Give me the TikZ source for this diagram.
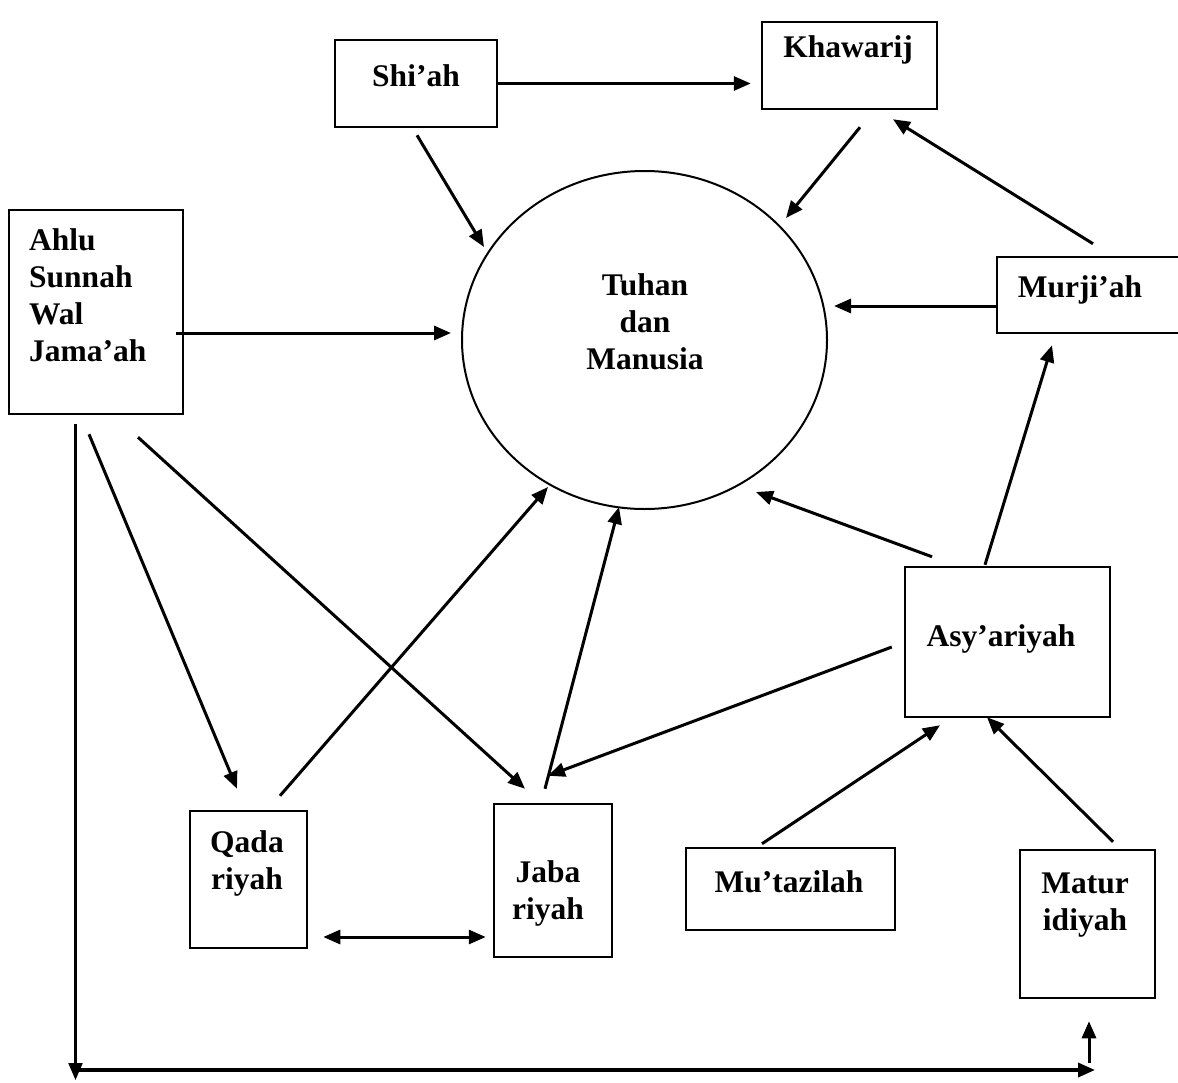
\documentclass[tikz,border=0pt]{standalone}
\usepackage{fontspec}
\setmainfont{Liberation Serif}
\usetikzlibrary{shapes.geometric,arrows.meta,positioning,calc}

\begin{document}
\begin{tikzpicture}[
            x=1pt, y=-1pt,
            box/.style={rectangle, draw, line width=2.5pt, inner sep=0pt},
            lbl/.style={font=\fontsize{31.5}{37}\selectfont\bfseries, inner sep=0pt, anchor=base, align=center},
            arrow/.style={-{Triangle[length=17pt,width=14pt]}, line width=3pt},
            dblarrow/.style={{Triangle[length=17pt,width=14pt]}-{Triangle[length=17pt,width=14pt]}, line width=3pt}
        ]
            \useasboundingbox (0,0) rectangle (1178,1082);

            % boxes
            \node[box, minimum width=162pt, minimum height=87pt] (shiah) at (416,83.5) {};
            \node[box, minimum width=175pt, minimum height=87pt] (khaw) at (849.5,65.5) {};
            \node[box, minimum width=174pt, minimum height=204pt] (ahlu) at (96,312) {};
            \node[ellipse, draw, line width=2pt, inner sep=0pt, minimum width=365pt, minimum height=338pt] (circ) at (644.5,340) {};
            \node[box, minimum width=185pt, minimum height=76pt] (murji) at (1089.5,295) {};
            \node[box, minimum width=205pt, minimum height=150pt] (asy) at (1007.5,642) {};
            \node[box, minimum width=117pt, minimum height=137pt] (qada) at (248.5,879.5) {};
            \node[box, minimum width=118pt, minimum height=153pt] (jaba) at (553,880.5) {};
            \node[box, minimum width=209pt, minimum height=82pt] (mutaz) at (790.5,889) {};
            \node[box, minimum width=135pt, minimum height=148pt] (matur) at (1087.5,924) {};

            % texts (multi-line ones sit on their last baseline)
            \node[lbl] (shiahtxt) at (416,86) {Shi’ah};
            \node[lbl] (khawtxt) at (848,57) {Khawarij};
            \node[lbl, anchor=base west, align=left] (ahlutxt) at (29,361) {Ahlu\\Sunnah\\Wal\\Jama’ah};
            \node[lbl] (circtxt) at (645,369) {Tuhan\\dan\\Manusia};
            \node[lbl] (murjitxt) at (1080,297) {Murji’ah};
            \node[lbl] (asytxt) at (1001,646) {Asy’ariyah};
            \node[lbl] (qadatxt) at (247,889) {Qada\\riyah};
            \node[lbl] (jabatxt) at (548,919) {Jaba\\riyah};
            \node[lbl] (mutaztxt) at (789,892) {Mu’tazilah};
            \node[lbl] (maturtxt) at (1085,930) {Matur\\idiyah};

            % free ends of the long line
            \coordinate (lldown) at (75.5,1080);
            \coordinate (llstart) at (76,1070);
            \coordinate (llend) at (1095,1070);
            \coordinate (upfoot) at (1089,1063);

            \draw[arrow, shorten >=10pt] (shiah.east) -- (shiah.east -| khaw.west);
            \draw[arrow] ([shift={(1,7)}]shiah.south) -- ([shift={(-160.5,-93)}]circ.center);
            \draw[arrow] ([shift={(10.5,17)}]khaw.south) -- ([shift={(141.5,-122)}]circ.center);
            \draw[arrow] ([shift={(3.5,-12)}]murji.north) -- ([shift={(43.5,9)}]khaw.south);
            \draw[arrow, shorten >=6pt] ([shift={(0,11)}]murji.west) -- ([shift={(0,11)}]murji.west -| circ.east);
            \draw[arrow, shorten >=2pt] ([shift={(-8,21)}]ahlu.east) -- ([shift={(-8,21)}]ahlu.east -| circ.west);
            \draw[arrow] ([shift={(-22.5,-1)}]asy.north) -- ([shift={(-37.5,11)}]murji.south);
            \draw[arrow] ([shift={(-75.5,-9)}]asy.north) -- ([shift={(111.5,152)}]circ.center);
            \draw[arrow] ([shift={(-12,5)}]asy.west) -- ([shift={(-5,-27)}]jaba.north);
            \draw[arrow] ([shift={(-7,19)}]ahlu.south) -- ([shift={(-11.5,-21)}]qada.north);
            \draw[arrow] ([shift={(42,22)}]ahlu.south) -- ([shift={(-28,-14)}]jaba.north);
            \draw[arrow] ([shift={(31.5,-14)}]qada.north) -- ([shift={(-96.5,147)}]circ.center);
            \draw[arrow] ([shift={(-8,-14)}]jaba.north) -- ([shift={(-25.5,167)}]circ.center);
            \draw[arrow] ([shift={(-28.5,-3)}]mutaz.north) -- ([shift={(-67.5,7)}]asy.south);
            \draw[arrow] ([shift={(25.5,-7)}]matur.north) -- ([shift={(-20.5,-1)}]asy.south);
            \draw[dblarrow] ([shift={(15,57.5)}]qada.east) -- ([shift={(-7,56.5)}]jaba.west);

            \draw[arrow, line width=2.2pt] ([shift={(-20.5,9)}]ahlu.south) -- (lldown);
            \draw[arrow, line width=3.5pt] (llstart) -- (llend);
            \draw[arrow] (upfoot) -- ([shift={(1.5,22)}]matur.south);
        \end{tikzpicture}
\end{document}
